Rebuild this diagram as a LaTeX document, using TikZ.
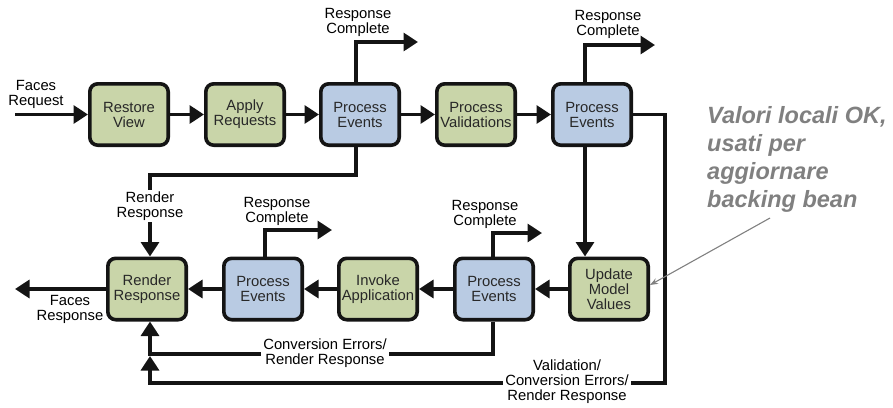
\documentclass[tikz,border=0pt]{standalone}
\usepackage{fontspec}
\setmainfont{Liberation Sans}
\usetikzlibrary{arrows.meta,calc}
\definecolor{phasegreen}{RGB}{201,213,169}
\definecolor{phaseblue}{RGB}{185,203,227}
\definecolor{edgeink}{RGB}{20,20,20}
\definecolor{phasetext}{RGB}{40,40,40}
\definecolor{notegray}{RGB}{128,128,128}
\newcommand{\phasefont}{\fontsize{14.8}{15}\selectfont}
\newcommand{\notefont}{\fontsize{23.5}{28}\selectfont\bfseries\itshape}

\begin{document}
\begin{tikzpicture}[x=1pt,y=-1pt,
  phase/.style={draw=edgeink, line width=3.6pt, rounded corners=8pt,
    minimum width=78.4pt, minimum height=61.4pt, align=center,
    font=\phasefont, text=phasetext, inner sep=1pt},
  greenphase/.style={phase, fill=phasegreen},
  bluephase/.style={phase, fill=phaseblue},
  flow/.style={draw=edgeink, line width=3.3pt, -{Triangle[length=14.5pt,width=18pt]}},
  tag/.style={font=\phasefont, align=center, inner sep=1pt, text=black},
  masked/.style={tag, fill=white, inner sep=2pt},
]
\useasboundingbox (0,0) rectangle (893,407);

% request-side phases
\node[greenphase] (rv)  at (129,114.5) {Restore\\View};
\node[greenphase] (ar)  at (245,114.5) {Apply\\Requests};
\node[bluephase]  (pe1) at (360,114.5) {Process\\Events};
\node[greenphase] (pv)  at (476,114.5) {Process\\Validations};
\node[bluephase]  (pe2) at (592,114.5) {Process\\Events};

% response-side phases
\node[greenphase] (rr)  at (147,289) {Render\\Response};
\node[bluephase]  (pe3) at (263,289) {Process\\Events};
\node[greenphase] (ia)  at (378,289) {Invoke\\Application};
\node[bluephase]  (pe4) at (494,289) {Process\\Events};
\node[greenphase] (umv) at (609,289) {Update\\Model\\Values};

% free ends of connectors
\coordinate (fin)   at (15,114.5);
\coordinate (fout)  at (15,289);
\coordinate (rc1)   at (418,42);
\coordinate (rc2)   at (655,45);
\coordinate (rc3)   at (332,230);
\coordinate (rc4)   at (542,233);
\coordinate (vbend) at (665,383);
\coordinate (merge) at (150,356);
\coordinate (notefoot) at (770,218);

% main flow
\draw[flow] (fin) -- (rv);
\draw[flow] (rv) -- (ar);
\draw[flow] (ar) -- (pe1);
\draw[flow] (pe1) -- (pv);
\draw[flow] (pv) -- (pe2);
\draw[flow] ([xshift=-7pt]pe2.south) -- ([xshift=-7pt]pe2.south |- umv.north);
\draw[flow] (umv) -- (pe4);
\draw[flow] (pe4) -- (ia);
\draw[flow] (ia) -- (pe3);
\draw[flow] (pe3) -- (rr);
\draw[flow] (rr) -- (fout);

% response complete exits
\draw[flow] ([xshift=-4pt]pe1.north) |- (rc1);
\draw[flow] ([xshift=-7pt]pe2.north) |- (rc2);
\draw[flow] ([xshift=2pt]pe3.north) |- (rc3);
\draw[flow] ([xshift=-1pt]pe4.north) |- (rc4);

% jumps to render response
\draw[flow] ([xshift=-4pt]pe1.south) -- ++(0,28) -| ([xshift=3pt]rr.north);
\draw[flow] (pe2.east) -| (vbend) -| (merge);
\draw[flow] ([xshift=-1pt]pe4.south) -- ++(0,32.5) -| ([xshift=3pt]rr.south);

% connector labels
\node[tag] (lreq)  at (36,94)     {Faces\\Request};
\node[tag] (lresp) at (70,309)    {Faces\\Response};
\node[tag] (lrc1)  at (358,22)    {Response\\Complete};
\node[tag] (lrc2)  at (608,24)    {Response\\Complete};
\node[tag] (lrc3)  at (277,211.5) {Response\\Complete};
\node[tag] (lrc4)  at (485,214.5) {Response\\Complete};
\node[masked] (lrr)   at (150,206) {Render\\Response};
\node[masked] (lconv) at (325,353) {Conversion Errors/\\Render Response};
\node[masked] (lval)  at (567,382) {Validation/\\Conversion Errors/\\Render Response};

% side note
\node[font=\notefont, text=notegray, align=left, anchor=north west, inner sep=0pt]
  (note) at (707,106) {Valori locali OK,\\usati per\\aggiornare\\backing bean};
\draw[draw=notegray, line width=1.1pt, -{Stealth[length=8pt,width=6pt]}]
  (notefoot) -- ([yshift=4pt]umv.east);
\end{tikzpicture}
\end{document}
